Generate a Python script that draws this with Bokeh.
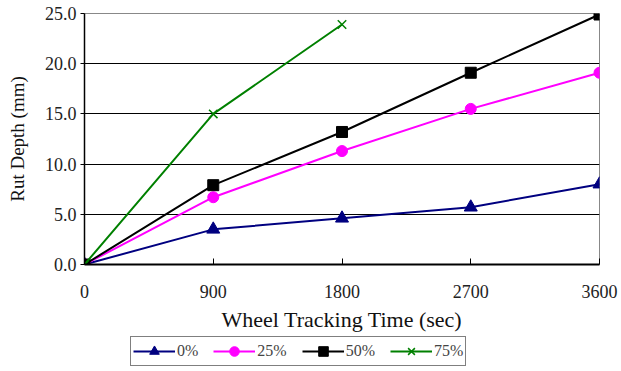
from bokeh.plotting import figure
from bokeh.layouts import column
from bokeh.models import Range1d, FixedTicker, NumeralTickFormatter, Legend, LegendItem
from bokeh.embed import file_html
from bokeh.resources import INLINE

times = [0, 900, 1800, 2700, 3600]
times_75 = [0, 900, 1800]
rut_0 = [0.0, 3.5, 4.6, 5.7, 8.0]
rut_25 = [0.0, 6.7, 11.3, 15.5, 19.1]
rut_50 = [0.0, 7.9, 13.2, 19.1, 24.9]
rut_75 = [0.0, 15.0, 23.9]
x_ticks = [0, 900, 1800, 2700, 3600]
y_ticks = [0, 5, 10, 15, 20, 25]
series_labels = ["0%", "25%", "50%", "75%"]

FONT = "Liberation Serif"
STYLES = [
    dict(color="#000080", marker="triangle", size=13),
    dict(color="#FF00FF", marker="circle", size=11),
    dict(color="black", marker="square", size=11),
    dict(color="#008000", marker="x", size=12),
]
series = [(times, rut_0), (times, rut_25), (times, rut_50), (times_75, rut_75)]


def draw_series(fig, xs, ys, st):
    rl = fig.line(xs, ys, line_color=st["color"], line_width=2)
    if st["marker"] == "x":
        rm = fig.scatter(xs, ys, marker="x", size=st["size"], line_color=st["color"], line_width=1.5)
    else:
        rm = fig.scatter(xs, ys, marker=st["marker"], size=st["size"],
                         fill_color=st["color"], line_color=st["color"])
    return rl, rm


p = figure(width=621, height=335, output_backend="svg", toolbar_location=None,
           x_range=Range1d(0, 3600), y_range=Range1d(0, 25),
           min_border_left=84, min_border_right=22, min_border_top=13, min_border_bottom=71)

p.background_fill_color = "white"
p.border_fill_color = "white"
p.outline_line_color = "#888888"
p.outline_line_width = 1

p.xgrid.grid_line_color = None
p.ygrid.grid_line_color = "black"
p.ygrid.grid_line_width = 1
p.yaxis.ticker = FixedTicker(ticks=y_ticks)
p.xaxis.ticker = FixedTicker(ticks=x_ticks)
p.yaxis.formatter = NumeralTickFormatter(format="0.0")

for ax in (p.xaxis[0], p.yaxis[0]):
    ax.major_label_text_font = FONT
    ax.major_label_text_font_size = "18px"
    ax.major_label_text_color = "#222222"
    ax.axis_label_text_font = FONT
    ax.axis_label_text_font_style = "normal"
    ax.axis_label_text_color = "#111111"
    ax.axis_line_color = "black"
    ax.major_tick_line_color = "black"
    ax.minor_tick_line_color = None

p.xaxis.axis_label = "Wheel Tracking Time (sec)"
p.yaxis.axis_label = "Rut Depth (mm)"
p.xaxis.axis_label_text_font_size = "22px"
p.yaxis.axis_label_text_font_size = "19px"
p.xaxis.axis_line_width = 2
p.yaxis.axis_line_width = 1.5
p.xaxis.major_tick_in = 6
p.xaxis.major_tick_out = 0
p.xaxis.major_label_standoff = 20
p.xaxis.axis_label_standoff = 6
p.yaxis.major_tick_in = 0
p.yaxis.major_tick_out = 4
p.yaxis.major_label_standoff = 4
p.yaxis.axis_label_standoff = 14

for (xs, ys), st in zip(series, STYLES):
    draw_series(p, xs, ys, st)

# legend strip below the chart (its own copies of the series sit outside its view)
p2 = figure(width=621, height=36, output_backend="svg", toolbar_location=None,
            x_range=Range1d(-3, -2), y_range=Range1d(-3, -2),
            min_border_left=0, min_border_right=0, min_border_top=0, min_border_bottom=0)
p2.axis.visible = False
p2.grid.grid_line_color = None
p2.outline_line_color = None
p2.background_fill_color = "white"
p2.border_fill_color = "white"

items = []
for lab, (xs, ys), st in zip(series_labels, series, STYLES):
    rl, rm = draw_series(p2, xs, ys, st)
    items.append(LegendItem(label=lab, renderers=[rl, rm]))

legend = Legend(items=items, orientation="horizontal", location=(46, 5))
legend.label_text_font = FONT
legend.label_text_font_size = "16px"
legend.label_standoff = 2
legend.glyph_width = 42
legend.glyph_height = 24
legend.spacing = 15
legend.padding = 2
legend.margin = 0
legend.border_line_color = "black"
legend.border_line_width = 1.5
legend.background_fill_alpha = 1
p2.add_layout(legend, "center")

layout = column(p, p2, spacing=0)
open("out.html", "w").write(file_html(layout, INLINE))
